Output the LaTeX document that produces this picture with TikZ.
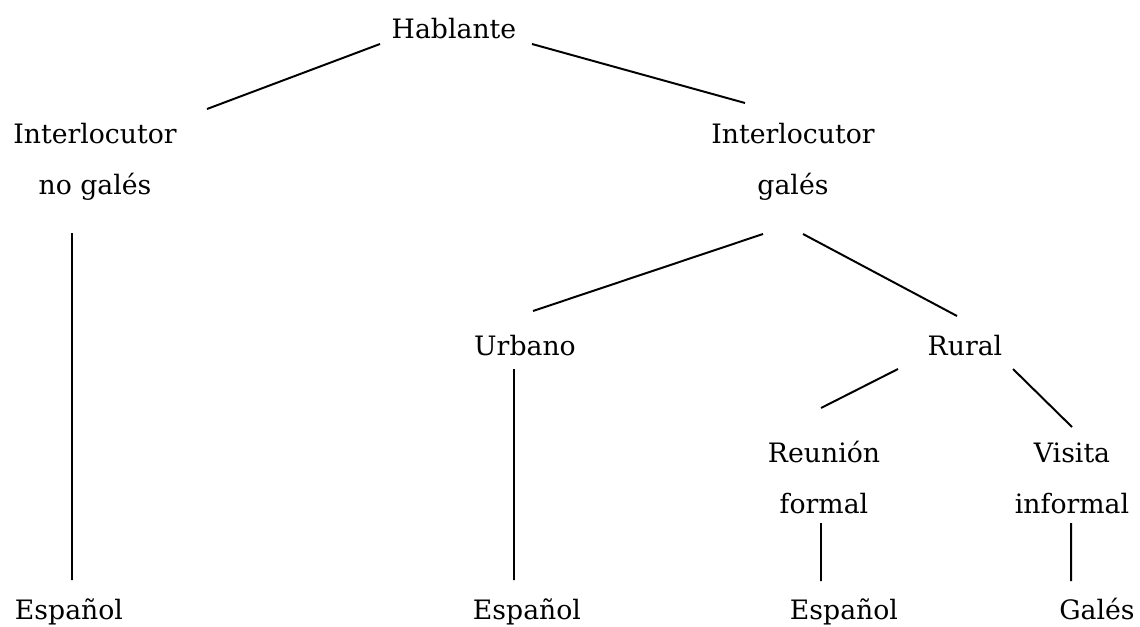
\documentclass[tikz,border=0pt]{standalone}
\usepackage{fontspec}
\setmainfont{DejaVu Serif}
\usepackage{tikz}

\begin{document}
\begin{tikzpicture}[every text node part/.style={align=center}, every node/.style={anchor=base, inner sep=0pt, font=\fontsize{19pt}{35.6pt}\selectfont}, branch/.style={line width=1.4pt}]
\useasboundingbox (0,0) rectangle (28.5,-15.65);
\node (hab) at (11.35,-0.975) {Hablante};
\node (inl) at (2.375,-4.85) {Interlocutor\\no gal\'es};
\node (ing) at (19.825,-4.85) {Interlocutor\\gal\'es};
\node (urb) at (13.125,-8.875) {Urbano};
\node (rur) at (24.125,-8.875) {Rural};
\node (reu) at (20.6,-12.825) {Reuni\'on\\formal};
\node (vis) at (26.8,-12.825) {Visita\\informal};
\node (esa) at (1.725,-15.475) {Espa\~nol};
\node (esb) at (13.175,-15.475) {Espa\~nol};
\node (esc) at (21.1,-15.475) {Espa\~nol};
\node (gal) at (27.425,-15.475) {Gal\'es};
\draw[branch] ([shift={(-1.85,-0.125)}]hab.base) -- ([shift={(2.8,2.125)}]inl.base);
\draw[branch] ([shift={(1.95,-0.125)}]hab.base) -- ([shift={(-1.2,2.275)}]ing.base);
\draw[branch] ([shift={(-0.575,-0.975)}]inl.base) -- ([shift={(0.075,0.975)}]esa.base);
\draw[branch] ([shift={(-0.75,-1.0)}]ing.base) -- ([shift={(0.2,1.1)}]urb.base);
\draw[branch] ([shift={(0.25,-1.0)}]ing.base) -- ([shift={(-0.2,0.975)}]rur.base);
\draw[branch] ([shift={(-0.275,-0.35)}]urb.base) -- ([shift={(-0.325,0.975)}]esb.base);
\draw[branch] ([shift={(-1.675,-0.35)}]rur.base) -- ([shift={(-0.075,2.625)}]reu.base);
\draw[branch] ([shift={(1.2,-0.35)}]rur.base) -- ([shift={(0,2.15)}]vis.base);
\draw[branch] ([shift={(-0.075,-0.25)}]reu.base) -- ([shift={(-0.575,0.95)}]esc.base);
\draw[branch] ([shift={(-0.025,-0.25)}]vis.base) -- ([shift={(-0.65,0.95)}]gal.base);
\end{tikzpicture}
\end{document}
